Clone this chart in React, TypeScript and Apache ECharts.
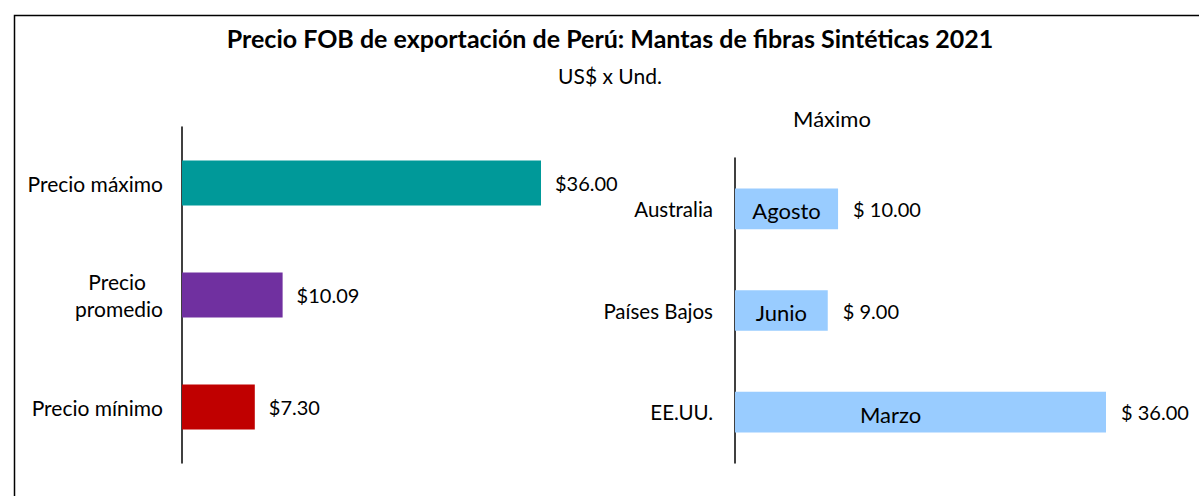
import React, { useEffect, useRef } from "react";
import * as echarts from "echarts";

const leftCategories = ["Precio máximo", "Precio promedio", "Precio mínimo"];
const leftValues = [36.0, 10.09, 7.3];
const leftColors = ["#009999", "#7030A0", "#C00000"];

const rightCategories = ["Australia", "Países Bajos", "EE.UU."];
const rightValues = [10.0, 9.0, 36.0];
const rightMonths = ["Agosto", "Junio", "Marzo"];

const titleText = "Precio FOB de exportación de Perú: Mantas de fibras Sintéticas 2021";
const subtitleText = "US$ x Und.";
const rightTitle = "Máximo";

const FONT = "Lato, 'Open Sans', sans-serif";

export default function App() {
  const ref = useRef<HTMLDivElement>(null);
  useEffect(() => {
    document.body.style.margin = "0";
    if (!ref.current) return;
    const chart = echarts.init(ref.current, null, { renderer: "svg" });
    const option: any = {
      animation: false,
      textStyle: { fontFamily: FONT },
      graphic: [
        {
          type: "rect",
          shape: { x: 14.5, y: 15.5, width: 1300, height: 600 },
          style: { fill: "none", stroke: "#000", lineWidth: 1.5 },
          silent: true,
        },
        {
          type: "text",
          x: 610,
          y: 38,
          style: {
            text: titleText,
            fontFamily: FONT,
            fontWeight: "bold",
            fontSize: 25,
            fill: "#000",
            textAlign: "center",
            textVerticalAlign: "middle",
          },
        },
        {
          type: "text",
          x: 610,
          y: 75,
          style: {
            text: subtitleText,
            fontFamily: FONT,
            fontSize: 21,
            fill: "#000",
            textAlign: "center",
            textVerticalAlign: "middle",
          },
        },
        {
          type: "text",
          x: 832,
          y: 118,
          style: {
            text: rightTitle,
            fontFamily: FONT,
            fontSize: 22,
            fill: "#000",
            textAlign: "center",
            textVerticalAlign: "middle",
          },
        },
      ],
      grid: [
        { left: 182, top: 127, width: 359, height: 336, containLabel: false },
        { left: 735, top: 158, width: 371, height: 305, containLabel: false },
      ],
      xAxis: [
        { gridIndex: 0, type: "value", min: 0, max: 36, show: false },
        { gridIndex: 1, type: "value", min: 0, max: 36, show: false },
      ],
      yAxis: [
        {
          gridIndex: 0,
          type: "category",
          inverse: true,
          data: leftCategories,
          axisLine: { show: true, lineStyle: { color: "#000", width: 1.5 } },
          axisTick: { show: false },
          splitLine: { show: false },
          axisLabel: {
            margin: 19,
            fontSize: 21,
            color: "#000",
            fontFamily: FONT,
            formatter: (v: string) =>
              v === "Precio promedio" ? "{a|Precio}\n{b|promedio}" : v,
            rich: {
              a: { fontSize: 21, fontFamily: FONT, color: "#000", padding: [0, 17, 0, 0], lineHeight: 27 },
              b: { fontSize: 21, fontFamily: FONT, color: "#000", lineHeight: 27 },
            },
          },
        },
        {
          gridIndex: 1,
          type: "category",
          inverse: true,
          data: rightCategories,
          axisLine: { show: true, lineStyle: { color: "#000", width: 1.5 } },
          axisTick: { show: false },
          splitLine: { show: false },
          axisLabel: { margin: 22, fontSize: 20.5, color: "#000", fontFamily: FONT },
        },
      ],
      series: [
        {
          type: "bar",
          xAxisIndex: 0,
          yAxisIndex: 0,
          barWidth: "40%",
          data: leftValues.map((v, i) => ({ value: v, itemStyle: { color: leftColors[i] } })),
          label: {
            show: true,
            position: "right",
            distance: 14,
            fontSize: 20,
            color: "#000",
            fontFamily: FONT,
            formatter: (p: any) => "$" + Number(p.value).toFixed(2),
          },
        },
        {
          type: "bar",
          xAxisIndex: 1,
          yAxisIndex: 1,
          barWidth: "40%",
          itemStyle: { color: "#99CCFF" },
          data: rightValues.map((v, i) => ({
            value: v,
            label: i === 2 ? { offset: [-30, 2] } : { offset: [0, 2] },
          })),
          label: {
            show: true,
            position: "inside",
            fontSize: 22,
            color: "#000",
            fontFamily: FONT,
            formatter: (p: any) => rightMonths[p.dataIndex],
          },
        },
        {
          type: "bar",
          xAxisIndex: 1,
          yAxisIndex: 1,
          barWidth: "40%",
          barGap: "-100%",
          itemStyle: { color: "rgba(0,0,0,0)" },
          silent: true,
          data: rightValues,
          label: {
            show: true,
            position: "right",
            distance: 15,
            fontSize: 20,
            color: "#000",
            fontFamily: FONT,
            formatter: (p: any) => "$ " + Number(p.value).toFixed(2),
          },
        },
      ],
    };
    chart.setOption(option);
    return () => chart.dispose();
  }, []);
  return <div ref={ref} style={{ width: 1199, height: 496, background: "#fff" }} />;
}
